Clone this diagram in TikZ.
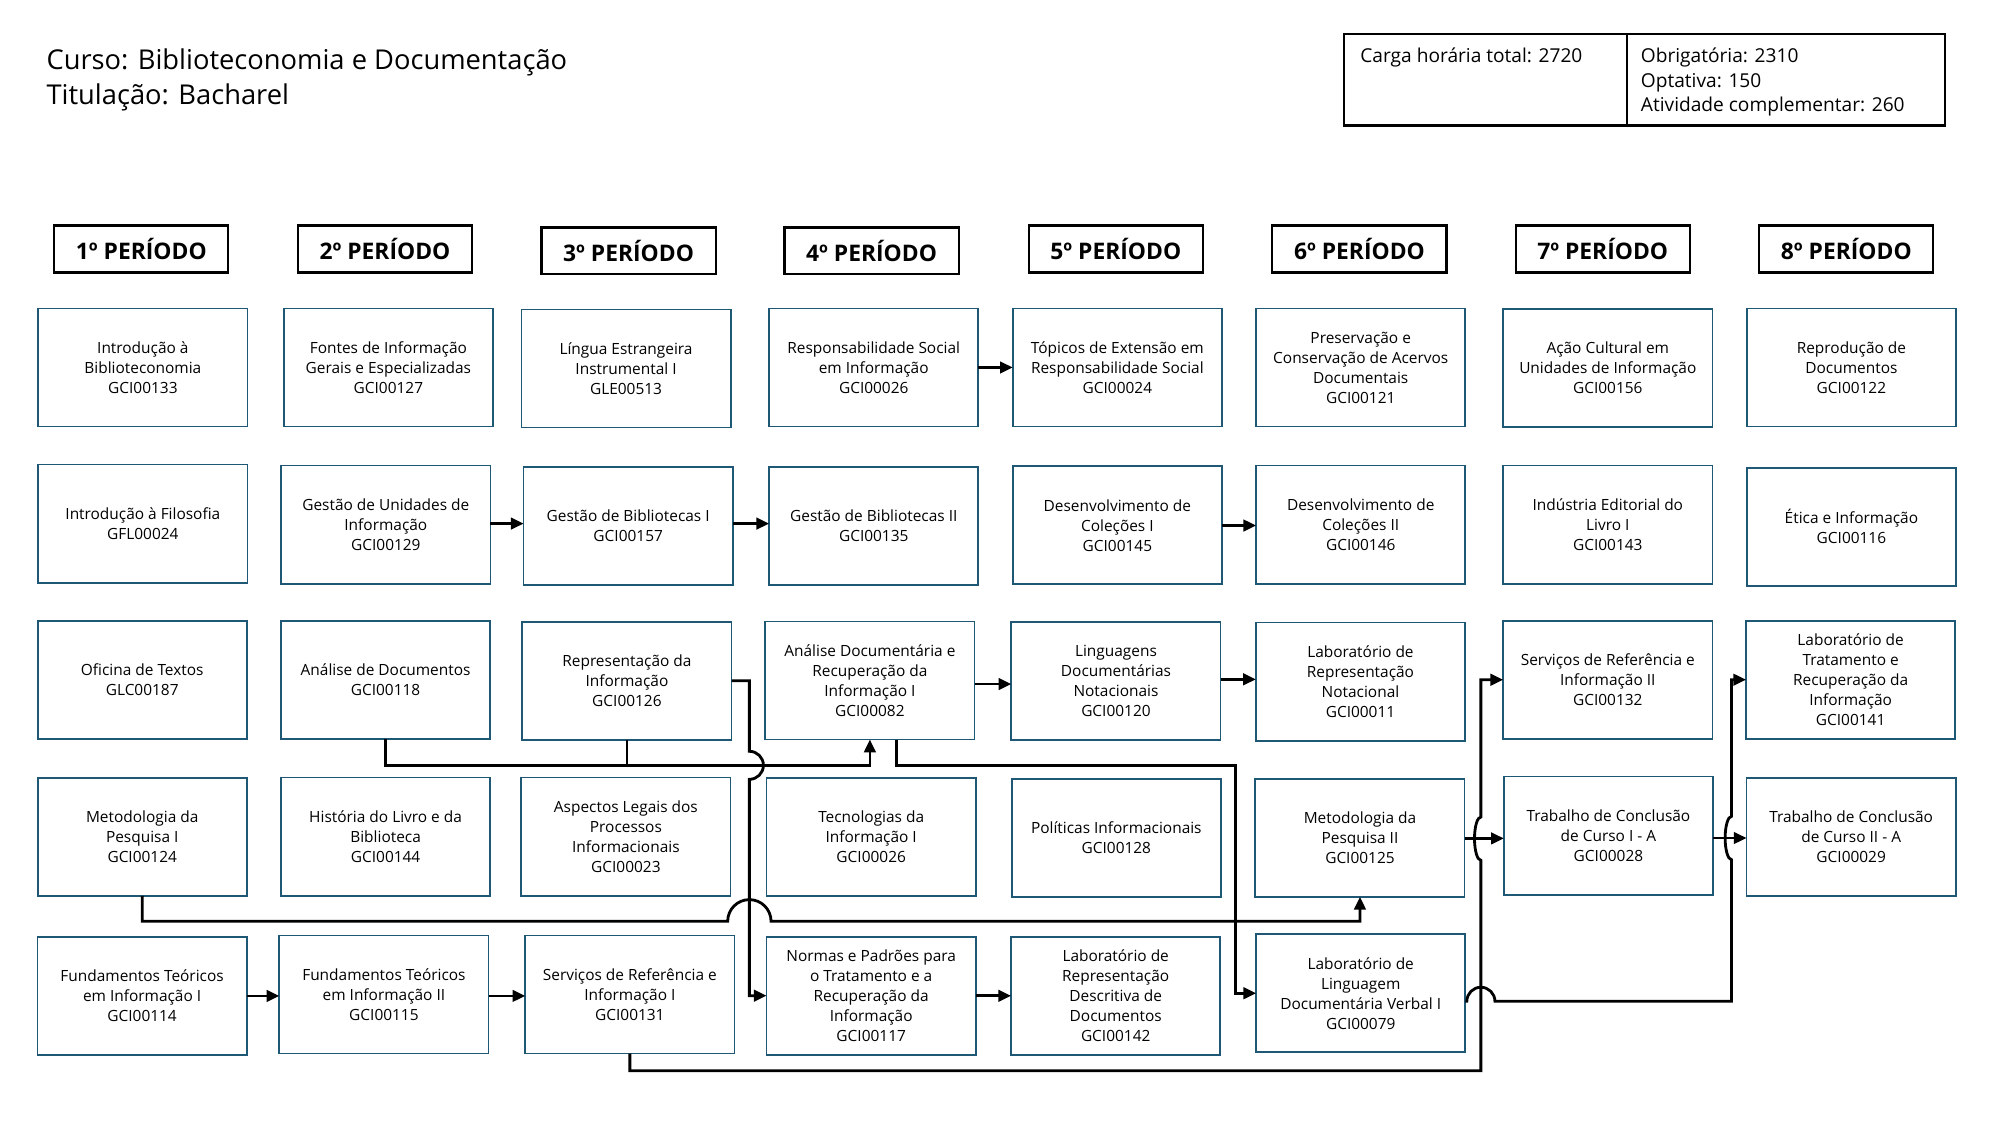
\documentclass[tikz,border=0pt]{standalone}
\usepackage{fontspec}
\setmainfont{Open Sans}
\usetikzlibrary{arrows.meta,calc}
\definecolor{boxc}{HTML}{1E5875}
\begin{document}
\begin{tikzpicture}[x=1pt,y=-1pt,
 course/.style={draw=boxc, line width=1.4pt, minimum width=164pt, minimum height=92.6pt, inner sep=0pt, outer sep=0pt, align=center, font=\fontsize{12.1}{15.7}\selectfont},
 period/.style={draw=black, line width=1.7pt, minimum width=136.5pt, minimum height=36.8pt, inner sep=0pt, outer sep=0pt, font=\bfseries\fontsize{17.9}{20}\selectfont},
 infocell/.style={draw=black, line width=1.7pt, inner sep=0pt, outer sep=0pt, anchor=north west, minimum height=71.5pt},
 plain/.style={anchor=base west, inner sep=0pt, outer sep=0pt},
 conn/.style={draw=black, line width=2.2pt},
 arr/.style={conn, -{Triangle[length=10pt,width=9pt]}}
]
\useasboundingbox (0,0) rectangle (1568,882);
\fill[white] (0,0) rectangle (1568,882);

% titles
\node[plain, font=\fontsize{21.4}{26}\selectfont] (title1) at (36.5,54.5) {Curso: Biblioteconomia e Documentação};
\node[plain, font=\fontsize{21.4}{26}\selectfont] (title2) at (36.5,82) {Titulação: Bacharel};

% info box
\node[infocell, minimum width=221.5pt] (infoL) at (1054,26.9) {};
\node[infocell, minimum width=249.5pt] (infoR) at (1275.5,26.9) {};
\node[plain, font=\fontsize{15}{19}\selectfont] (infoL1) at (1066.5,49) {Carga horária total: 2720};
\node[plain, font=\fontsize{15}{19}\selectfont] (infoR1) at (1286.5,49) {Obrigatória: 2310};
\node[plain, font=\fontsize{15}{19}\selectfont] (infoR2) at (1286.5,68.3) {Optativa: 150};
\node[plain, font=\fontsize{15}{19}\selectfont] (infoR3) at (1286.5,87.6) {Atividade complementar: 260};

% period headers
\node[period] (h1) at (110.8,195.2) {1º PERÍODO};
\node[period] (h2) at (301.8,195.2) {2º PERÍODO};
\node[period] (h3) at (492.8,196.7) {3º PERÍODO};
\node[period] (h4) at (683.3,196.7) {4º PERÍODO};
\node[period] (h5) at (874.8,195.2) {5º PERÍODO};
\node[period] (h6) at (1065.8,195.2) {6º PERÍODO};
\node[period] (h7) at (1256.5,195.2) {7º PERÍODO};
\node[period] (h8) at (1447.5,195.2) {8º PERÍODO};

% row 1
\node[course] (b11) at (112,288.1) {Introdução à\\Biblioteconomia\\GCI00133};
\node[course] (b12) at (304.5,288.1) {Fontes de Informação\\Gerais e Especializadas\\GCI00127};
\node[course] (b13) at (490.8,288.9) {Língua Estrangeira\\Instrumental I\\GLE00513};
\node[course] (b14) at (685,288.1) {Responsabilidade Social\\em Informação\\GCI00026};
\node[course] (b15) at (876,288.1) {Tópicos de Extensão em\\Responsabilidade Social\\GCI00024};
\node[course] (b16) at (1066.8,288.1) {Preservação e\\Conservação de Acervos\\Documentais\\GCI00121};
\node[course] (b17) at (1260.5,288.5) {Ação Cultural em\\Unidades de Informação\\GCI00156};
\node[course] (b18) at (1451.5,288.1) {Reprodução de\\Documentos\\GCI00122};

% row 2
\node[course] (b21) at (112,410.5) {Introdução à Filosofia\\GFL00024};
\node[course] (b22) at (302.5,411.3) {Gestão de Unidades de\\Informação\\GCI00129};
\node[course] (b23) at (492.5,412.2) {Gestão de Bibliotecas I\\GCI00157};
\node[course] (b24) at (685,412.2) {Gestão de Bibliotecas II\\GCI00135};
\node[course] (b25) at (876,411.8) {Desenvolvimento de\\Coleções I\\GCI00145};
\node[course] (b26) at (1066.8,411.3) {Desenvolvimento de\\Coleções II\\GCI00146};
\node[course] (b27) at (1260.5,411.3) {Indústria Editorial do\\Livro I\\GCI00143};
\node[course] (b28) at (1451.5,413) {Ética e Informação\\GCI00116};

% row 3
\node[course] (b31) at (111.5,533) {Oficina de Textos\\GLC00187};
\node[course] (b32) at (302.3,532.9) {Análise de Documentos\\GCI00118};
\node[course] (b33) at (491.5,533.7) {Representação da\\Informação\\GCI00126};
\node[course] (b34) at (682,533.5) {Análise Documentária e\\Recuperação da\\Informação I\\GCI00082};
\node[course] (b35) at (874.9,533.8) {Linguagens\\Documentárias\\Notacionais\\GCI00120};
\node[course] (b36) at (1066.6,534.4) {Laboratório de\\Representação\\Notacional\\GCI00011};
\node[course] (b37) at (1260.5,532.9) {Serviços de Referência e\\Informação II\\GCI00132};
\node[course] (b38) at (1450.9,532.9) {Laboratório de\\Tratamento e\\Recuperação da\\Informação\\GCI00141};

% row 4
\node[course] (b41) at (111.5,656) {Metodologia da\\Pesquisa I\\GCI00124};
\node[course] (b42) at (302.3,655.9) {História do Livro e da\\Biblioteca\\GCI00144};
\node[course] (b43) at (490.7,655.9) {Aspectos Legais dos\\Processos\\Informacionais\\GCI00023};
\node[course] (b44) at (683,656) {Tecnologias da\\Informação I\\GCI00026};
\node[course] (b45) at (875.2,656.8) {Políticas Informacionais\\GCI00128};
\node[course] (b46) at (1066.2,656.8) {Metodologia da\\Pesquisa II\\GCI00125};
\node[course] (b47) at (1261,655.1) {Trabalho de Conclusão\\de Curso I - A\\GCI00028};
\node[course] (b48) at (1451.3,656) {Trabalho de Conclusão\\de Curso II - A\\GCI00029};

% row 5
\node[course] (b51) at (111.4,780.7) {Fundamentos Teóricos\\em Informação I\\GCI00114};
\node[course] (b52) at (301,779.7) {Fundamentos Teóricos\\em Informação II\\GCI00115};
\node[course] (b53) at (493.8,779.7) {Serviços de Referência e\\Informação I\\GCI00131};
\node[course] (b54) at (683,780.6) {Normas e Padrões para\\o Tratamento e a\\Recuperação da\\Informação\\GCI00117};
\node[course] (b55) at (874.7,780.6) {Laboratório de\\Representação\\Descritiva de\\Documentos\\GCI00142};
\node[course] (b56) at (1066.8,778.7) {Laboratório de\\Linguagem\\Documentária Verbal I\\GCI00079};

% helper coordinates for arrow heights
\coordinate (ya) at (0,410.5);
\coordinate (yb) at (0,412);
\coordinate (yc) at (0,536.3);
\coordinate (yd) at (0,532.6);
\coordinate (ye) at (0,657.3);
\coordinate (yf) at (0,657);
\coordinate (yg) at (0,780.8);
\coordinate (yh) at (0,780.7);
\coordinate (ja) at (0,600);

% simple arrows
\draw[arr] (b14.east) -- (b15.west);
\draw[arr] (b22.east |- ya) -- (b23.west |- ya);
\draw[arr] (b23.east |- ya) -- (b24.west |- ya);
\draw[arr] (b25.east |- yb) -- (b26.west |- yb);
\draw[arr] (b34.east |- yc) -- (b35.west |- yc);
\draw[arr] (b35.east |- yd) -- (b36.west |- yd);
\draw[arr] (b46.east |- ye) -- (b47.west |- ye);
\draw[arr] (b47.east |- yf) -- (b48.west |- yf);
\draw[arr] (b51.east |- yg) -- (b52.west |- yg);
\draw[arr] (b52.east |- yg) -- (b53.west |- yg);
\draw[arr] (b54.east |- yh) -- (b55.west |- yh);

% Analise de Documentos + Representacao -> Analise Documentaria
\draw[conn] (b33.south) -- (b33.south |- ja);
\draw[arr] (b32.south) |- (b34.south |- ja) -- (b34.south);

% Representacao -> Normas e Padroes (jumps over the line above)
\draw[arr] (b33.east) -- (587.5,533.7) -- (587.5,589)
  .. controls (593.6,589) and (598.5,593.9) .. (598.5,600)
  .. controls (598.5,606.1) and (593.6,611) .. (587.5,611)
  -- (587.5,780.6) -- (b54.west);

% Metodologia I -> Metodologia II
\draw[arr] (b41.south) -- (111.5,722.3) -- (570.5,722.3)
  .. controls (570.5,712.9) and (578.1,705.3) .. (587.5,705.3)
  .. controls (596.9,705.3) and (604.5,712.9) .. (604.5,722.3)
  -- (1066.2,722.3) -- (b46.south);

% Analise Documentaria -> Lab. Linguagem Documentaria Verbal I
\draw[arr] ($(b34.south)+(20.8,0)$) -- (702.8,600) -- (968.8,600) -- (968.8,778.7) -- (b56.west);

% Servicos de Referencia I -> Servicos de Referencia II
\draw[arr] (b53.south) -- (493.8,839.4) -- (1161,839.4) -- (1161,674.5)
  .. controls (1158.24,674.5) and (1156,666.9) .. (1156,657.5)
  .. controls (1156,648.1) and (1158.24,640.5) .. (1161,640.5)
  -- (1161,532.9) -- (b37.west);

% Lab. Linguagem Documentaria Verbal I -> Lab. Tratamento e Recuperacao
\draw[arr] ($(b56.east)+(0,6.3)$) -- (1150,785)
  .. controls (1150,778.9) and (1154.9,774) .. (1161,774)
  .. controls (1167.1,774) and (1172,778.9) .. (1172,785)
  -- (1357.5,785) -- (1357.5,674)
  .. controls (1354.74,674) and (1352.5,666.4) .. (1352.5,657)
  .. controls (1352.5,647.6) and (1354.74,640) .. (1357.5,640)
  -- (1357.5,532.9) -- (b38.west);
\end{tikzpicture}
\end{document}
